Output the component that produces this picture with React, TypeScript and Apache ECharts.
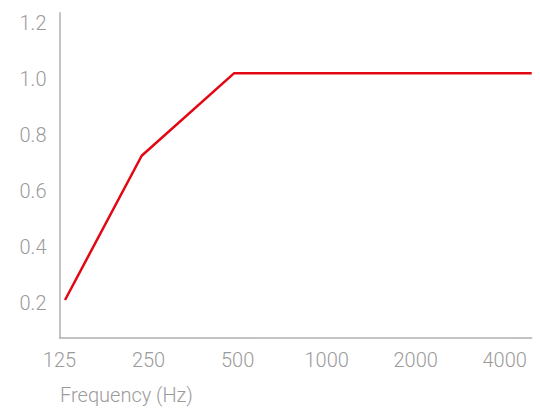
import React, { useEffect, useRef } from "react";
import * as echarts from "echarts";

const freqTicks = [125, 250, 500, 1000, 2000, 4000];
const yTicks = [0.2, 0.4, 0.6, 0.8, 1.0, 1.2];
const freqs = [130.5, 237, 487, 4935];
const absorption = [0.209, 0.724, 1.019, 1.019];
const axisTitle = "Frequency (Hz)";

const BASE = 125;
const oct = (f: number) => Math.log2(f / BASE);

export default function App() {
  const ref = useRef<HTMLDivElement>(null);
  useEffect(() => {
    if (!ref.current) return;
    const chart = echarts.init(ref.current, null, { renderer: "svg" });
    const labelStyle = {
      color: "#9b9b9b",
      fontSize: 20,
      fontFamily: "Roboto",
      fontWeight: 300 as any,
    };
    chart.setOption({
      animation: false,
      grid: { left: 59.5, right: 8.3, top: 12.7, bottom: 76.5 },
      xAxis: {
        type: "value",
        min: 0,
        max: oct(4935),
        axisLine: { show: true, lineStyle: { color: "#b0b0b0", width: 1.5 } },
        axisTick: { show: false },
        splitLine: { show: false },
        axisLabel: {
          ...labelStyle,
          margin: 12,
          customValues: freqTicks.map(oct),
          formatter: (v: number) => {
            const f = Math.round(BASE * Math.pow(2, v));
            return freqTicks.includes(f) ? String(f) : "";
          },
        },
      },
      yAxis: {
        type: "value",
        min: 0.075,
        max: 1.235,
        axisLine: { show: true, lineStyle: { color: "#b0b0b0", width: 1.5 } },
        axisTick: { show: false },
        splitLine: { show: false },
        axisLabel: {
          ...labelStyle,
          margin: 13,
          customValues: yTicks,
          formatter: (v: number) => v.toFixed(1),
        },
      },
      graphic: [
        {
          type: "text",
          left: 60,
          top: 385,
          style: { text: axisTitle, ...labelStyle, fill: "#9b9b9b" },
        },
      ],
      series: [
        {
          type: "line",
          data: freqs.map((f, i) => [oct(f), absorption[i]]),
          showSymbol: false,
          lineStyle: { color: "#e30613", width: 2.5 },
        },
      ],
    });
    return () => chart.dispose();
  }, []);
  return <div ref={ref} style={{ width: 540, height: 414, position: "absolute", left: 0, top: 0 }} />;
}
